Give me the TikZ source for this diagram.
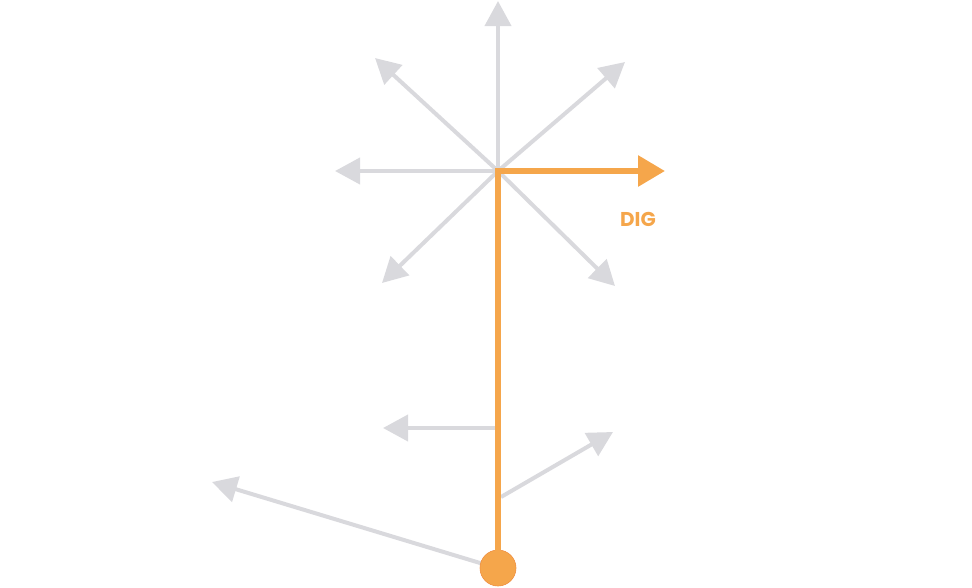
\documentclass[tikz,border=0pt]{standalone}
\usepackage{fontspec}
\setmainfont{Poppins}
\usetikzlibrary{arrows.meta}

\definecolor{pathgray}{HTML}{D9D9DD}
\definecolor{digorange}{HTML}{F5A64B}
\definecolor{digedge}{HTML}{EE8A3C}

\begin{document}
\begin{tikzpicture}[x=1pt,y=-1pt]
\tikzstyle{every node} = [font=\bfseries\fontsize{20}{20}\selectfont]
\tikzstyle{option} = [draw=pathgray, line width=4pt, -{Triangle[length=25pt,width=26pt]}]
\tikzstyle{chosen} = [draw=digorange, line width=6pt, line join=miter, -{Triangle[length=27pt,width=30pt]}]
\useasboundingbox (0,0) rectangle (972,587);

\coordinate (hub) at (498,171);   %where the choices fan out
\coordinate (side) at (498,428);
\coordinate (fork) at (501,497);

% choices at the hub
\foreach \n/\x/\y in {up/498/1, upleft/375/58, upright/625/62, left/335/171, downleft/382/283, downright/615/286}
{
	\coordinate (\n) at (\x,\y);
	\draw[option] (hub) -- (\n);
}

% choices along the way
\coordinate (sidetip) at (383,428);
\coordinate (forktip) at (613,432);
\coordinate (farleft) at (212,482);
\draw[option] (side) -- (sidetip);
\draw[option] (fork) -- (forktip);
\draw[option] (490,566) -- (farleft);

% the path taken
\node[circle, draw=digedge, fill=digorange, minimum size=36pt, inner sep=0pt, line width=0.6pt] (start) at (498,568) {};
\coordinate (digtip) at (665,171);
\draw[chosen] (start.center) -- (hub) -- (digtip);
\fill[digorange] (start) circle (17.5pt);
\node[text=digorange] (dig) at (638,219) {DIG};
\end{tikzpicture}
\end{document}
